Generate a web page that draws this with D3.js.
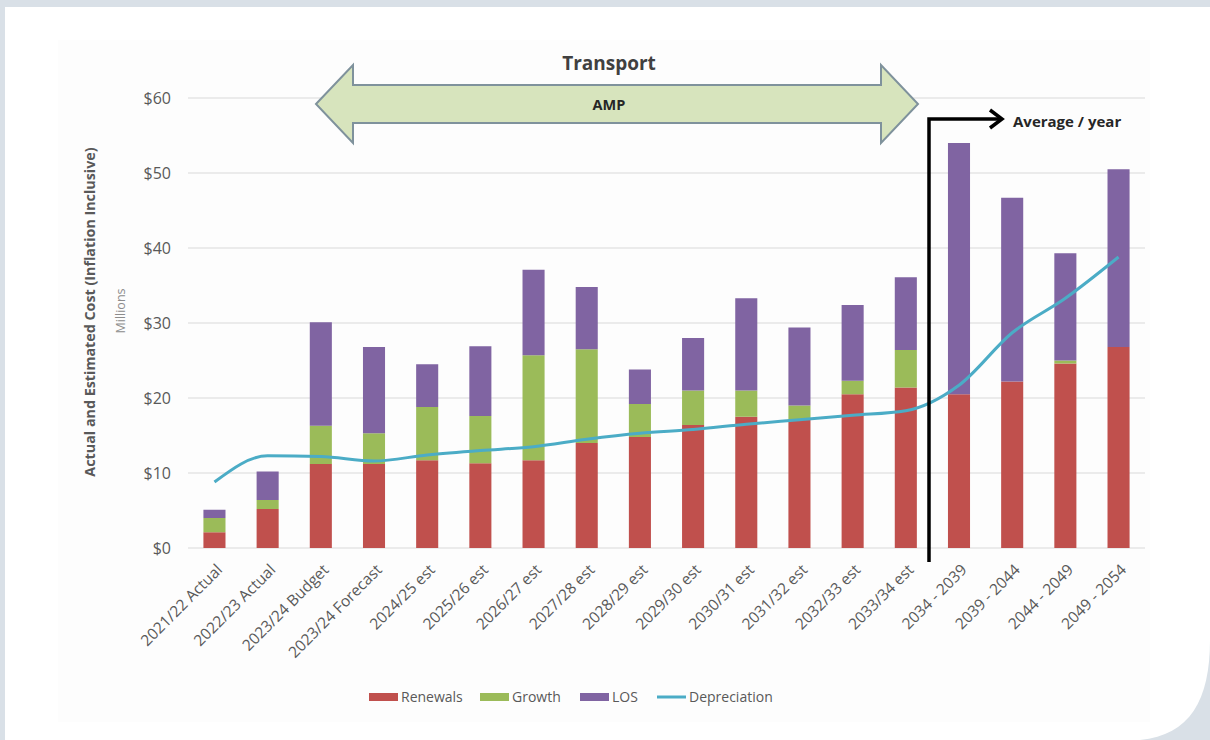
<!DOCTYPE html>
<html>
<head>
<meta charset="utf-8">
<script src="https://cdn.jsdelivr.net/npm/d3@7"></script>
<style>
  html, body { margin: 0; padding: 0; background: #d9e0e7; }
  svg { display: block; font-family: "Open Sans", "Noto Sans", sans-serif; }
</style>
</head>
<body>
<svg id="chart" width="1210" height="740"></svg>
<script>
const categories = ["2021/22 Actual","2022/23 Actual","2023/24 Budget","2023/24 Forecast","2024/25 est","2025/26 est","2026/27 est","2027/28 est","2028/29 est","2029/30 est","2030/31 est","2031/32 est","2032/33 est","2033/34 est","2034 - 2039","2039 - 2044","2044 - 2049","2049 - 2054"];
const renewals = [2.1, 5.2, 11.2, 11.2, 11.7, 11.3, 11.7, 14.0, 14.8, 16.4, 17.5, 17.1, 20.5, 21.4, 20.5, 22.2, 24.6, 26.8];
const growth   = [1.9, 1.2, 5.1, 4.1, 7.1, 6.3, 14.0, 12.5, 4.4, 4.6, 3.5, 1.9, 1.8, 5.0, 0, 0, 0.4, 0];
const los      = [1.1, 3.8, 13.8, 11.5, 5.7, 9.3, 11.4, 8.3, 4.6, 7.0, 12.3, 10.4, 10.1, 9.7, 33.5, 24.5, 14.3, 23.7];
const depreciation = [8.8, 12.3, 12.2, 11.6, 12.4, 13.0, 13.5, 14.5, 15.3, 15.8, 16.5, 17.1, 17.7, 18.3, 21.7, 28.7, 33.3, 38.8];
const yTicks = [0, 10, 20, 30, 40, 50, 60];
const seriesNames = ["Renewals", "Growth", "LOS"];
const seriesColors = ["#c0504d", "#9bbb59", "#8064a2"];
const lineColor = "#4bacc6";

const svg = d3.select("#chart");
const W = 1210, H = 740;

// panel background with rounded bottom-right corner
svg.append("path")
  .attr("d", `M5,7 H${W} V640 C${W},700 1190,735 1140,${H} H5 Z`)
  .attr("fill", "#ffffff");
svg.append("rect").attr("x", 58).attr("y", 40).attr("width", 1092).attr("height", 682).attr("fill", "#fdfdfd");

const x = d3.scaleBand().domain(categories).range([188, 1145]).paddingInner(0.585).paddingOuter(0.29);
const y = d3.scaleLinear().domain([0, 60]).range([548, 98]);

// gridlines
svg.append("g").selectAll("line").data(yTicks).join("line")
  .attr("x1", 188).attr("x2", 1145)
  .attr("y1", d => y(d)).attr("y2", d => y(d))
  .attr("stroke", "#d9d9d9").attr("stroke-width", 1.2);

// y axis labels
const yAxis = d3.axisLeft(y).tickValues(yTicks).tickFormat(d => "$" + d).tickSize(0).tickPadding(0);
const gy = svg.append("g").attr("transform", "translate(171,0)").call(yAxis);
gy.select(".domain").remove();
gy.selectAll("text").attr("font-size", 16).attr("fill", "#595959").attr("font-family", "'Open Sans', sans-serif");

// stacked bars
const rows = categories.map((c, i) => ({cat: c, Renewals: renewals[i], Growth: growth[i], LOS: los[i]}));
const stack = d3.stack().keys(seriesNames)(rows);
svg.append("g").selectAll("g").data(stack).join("g")
  .attr("fill", (d, i) => seriesColors[i])
  .selectAll("rect").data(d => d).join("rect")
  .attr("x", d => x(d.data.cat))
  .attr("width", x.bandwidth())
  .attr("y", d => y(d[1]))
  .attr("height", d => Math.max(0, y(d[0]) - y(d[1])));

// depreciation line
const line = d3.line()
  .x((d, i) => x(categories[i]) + x.bandwidth() / 2)
  .y(d => y(d))
  .curve(d3.curveMonotoneX);
svg.append("path").datum(depreciation)
  .attr("d", line).attr("fill", "none")
  .attr("stroke", lineColor).attr("stroke-width", 3);

// x axis labels
const xAxis = d3.axisBottom(x).tickSize(0).tickPadding(0);
const gx = svg.append("g").attr("transform", "translate(0,566)").call(xAxis);
gx.select(".domain").remove();
gx.selectAll("text")
  .attr("font-size", 15.5).attr("fill", "#595959")
  .attr("font-family", "'Open Sans', sans-serif")
  .attr("text-anchor", "end").attr("dy", "0.35em")
  .attr("transform", "translate(5,1) rotate(-45)");

// y axis titles
svg.append("text")
  .attr("transform", "translate(95,312) rotate(-90)")
  .attr("text-anchor", "middle").attr("font-size", 14.3).attr("font-weight", "bold")
  .attr("fill", "#595959").text("Actual and Estimated Cost (Inflation Inclusive)");
svg.append("text")
  .attr("transform", "translate(125,311) rotate(-90)")
  .attr("text-anchor", "middle").attr("font-size", 12.5)
  .attr("fill", "#8c8c8c").text("Millions");

// AMP double arrow
const ax1 = 316, ax2 = 918, ay = 104, headW = 37, shaftH = 19, headH = 39;
svg.append("path")
  .attr("d", `M${ax1},${ay} L${ax1 + headW},${ay - headH} V${ay - shaftH} H${ax2 - headW} V${ay - headH} L${ax2},${ay} L${ax2 - headW},${ay + headH} V${ay + shaftH} H${ax1 + headW} V${ay + headH} Z`)
  .attr("fill", "#d7e4bd").attr("stroke", "#7f929c").attr("stroke-width", 2);
svg.append("text").attr("x", 609).attr("y", 70).attr("text-anchor", "middle")
  .attr("font-size", 19).attr("font-weight", "bold").attr("fill", "#404040").text("Transport");
svg.append("text").attr("x", 609).attr("y", 109.5).attr("text-anchor", "middle")
  .attr("font-size", 14.5).attr("font-weight", "bold").attr("fill", "#262626").text("AMP");

// Average / year bracket
svg.append("path")
  .attr("d", "M929,562 V119 H1001")
  .attr("fill", "none").attr("stroke", "#000").attr("stroke-width", 3.5);
svg.append("path")
  .attr("d", "M990,110 L1002,119 L990,128")
  .attr("fill", "none").attr("stroke", "#000").attr("stroke-width", 3.5);
svg.append("text").attr("x", 1013).attr("y", 126.5)
  .attr("font-size", 15).attr("font-weight", "bold").attr("fill", "#262626").text("Average / year");

// legend
const legendItems = [
  {name: "Renewals", color: seriesColors[0], type: "rect", x: 369},
  {name: "Growth", color: seriesColors[1], type: "rect", x: 480},
  {name: "LOS", color: seriesColors[2], type: "rect", x: 580},
  {name: "Depreciation", color: lineColor, type: "line", x: 657}
];
const lg = svg.append("g");
legendItems.forEach(it => {
  if (it.type === "rect") {
    lg.append("rect").attr("x", it.x).attr("y", 693).attr("width", 29).attr("height", 8).attr("fill", it.color);
  } else {
    lg.append("line").attr("x1", it.x).attr("x2", it.x + 29).attr("y1", 697).attr("y2", 697)
      .attr("stroke", it.color).attr("stroke-width", 3);
  }
  lg.append("text").attr("x", it.x + 32).attr("y", 702).attr("font-size", 14).attr("fill", "#595959").text(it.name);
});
</script>
</body>
</html>
